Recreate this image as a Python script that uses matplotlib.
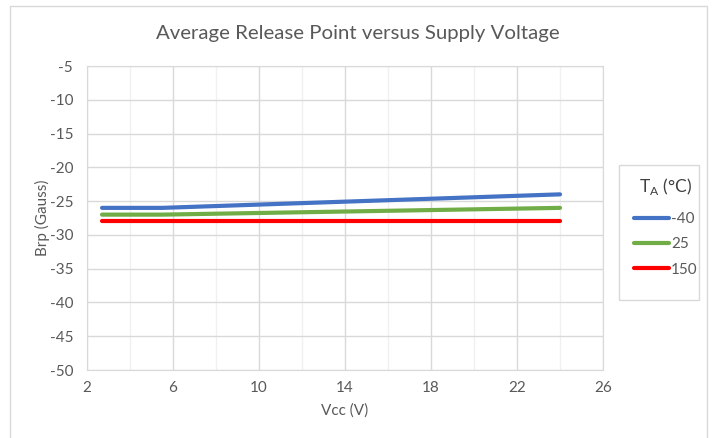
import matplotlib
matplotlib.use("Agg")
import matplotlib.pyplot as plt
from matplotlib.patches import Rectangle

plt.rcParams['font.family'] = ['Lato', 'DejaVu Sans']
plt.rcParams['axes.unicode_minus'] = False

# Data
vcc = [2.7, 5.5, 24]
brp_m40 = [-26, -26, -24]
brp_25 = [-27, -27, -26]
brp_150 = [-28, -28, -28]
series_labels = ['-40', '25', '150']
series_colors = ['#4472c4', '#70ad47', '#ff0000']

xticks = [2, 6, 10, 14, 18, 22, 26]
yticks = [-50, -45, -40, -35, -30, -25, -20, -15, -10, -5]
text_color = '#595959'

W, H = 712, 438
fig = plt.figure(figsize=(W / 100, H / 100), dpi=100)
ax = fig.add_axes([87 / W, 1 - 370 / H, (603 - 87) / W, (370 - 66) / H])

for y, lab, col in zip([brp_m40, brp_25, brp_150], series_labels, series_colors):
    ax.plot(vcc, y, color=col, lw=3, label=lab, solid_capstyle='round')

ax.set_xlim(2, 26)
ax.set_ylim(-50, -5)
ax.set_xticks(xticks)
ax.set_yticks(yticks)
ax.set_xticks(range(4, 26, 4), minor=True)
ax.grid(True, which='major', color='#d9d9d9', lw=1)
ax.grid(True, which='minor', axis='x', color='#f0f0f0', lw=1)
ax.set_axisbelow(True)
ax.tick_params(which='both', length=0, labelsize=11, colors=text_color)
ax.tick_params(axis='y', pad=10)
ax.tick_params(axis='x', pad=8)
for s in ax.spines.values():
    s.set_color('#d9d9d9')

ax.set_xlabel('Vcc (V)', fontsize=11, color=text_color, labelpad=6)
ax.set_ylabel('Brp (Gauss)', fontsize=11, color=text_color, labelpad=0)
fig.text(358 / W, 1 - 33 / H, 'Average Release Point versus Supply Voltage',
         ha='center', va='center', fontsize=14.7, color=text_color)

# legend: box drawn separately so it matches the reference size
fig.patches.append(Rectangle((619 / W, 1 - 300 / H), 80 / W, 135 / H,
                             transform=fig.transFigure, fill=False,
                             edgecolor='#d9d9d9', lw=1))
leg = fig.legend(loc='upper left', bbox_to_anchor=(626 / W, 1 - 168 / H),
                 title='T$_\\mathregular{A}$ (°C)', frameon=False,
                 fontsize=11, title_fontsize=12.5, handlelength=2.3,
                 handletextpad=0.15, labelspacing=0.75, borderpad=0)
leg._legend_box.sep = 11
for t in leg.get_texts():
    t.set_color(text_color)
leg.get_title().set_color('#404040')

# outer chart border
fig.patches.append(Rectangle((10 / W, -0.01), (707 - 10) / W, 1 - 6 / H + 0.01,
                             transform=fig.transFigure, fill=False,
                             edgecolor='#d9d9d9', lw=1))

fig.savefig('out.png', dpi=100)
